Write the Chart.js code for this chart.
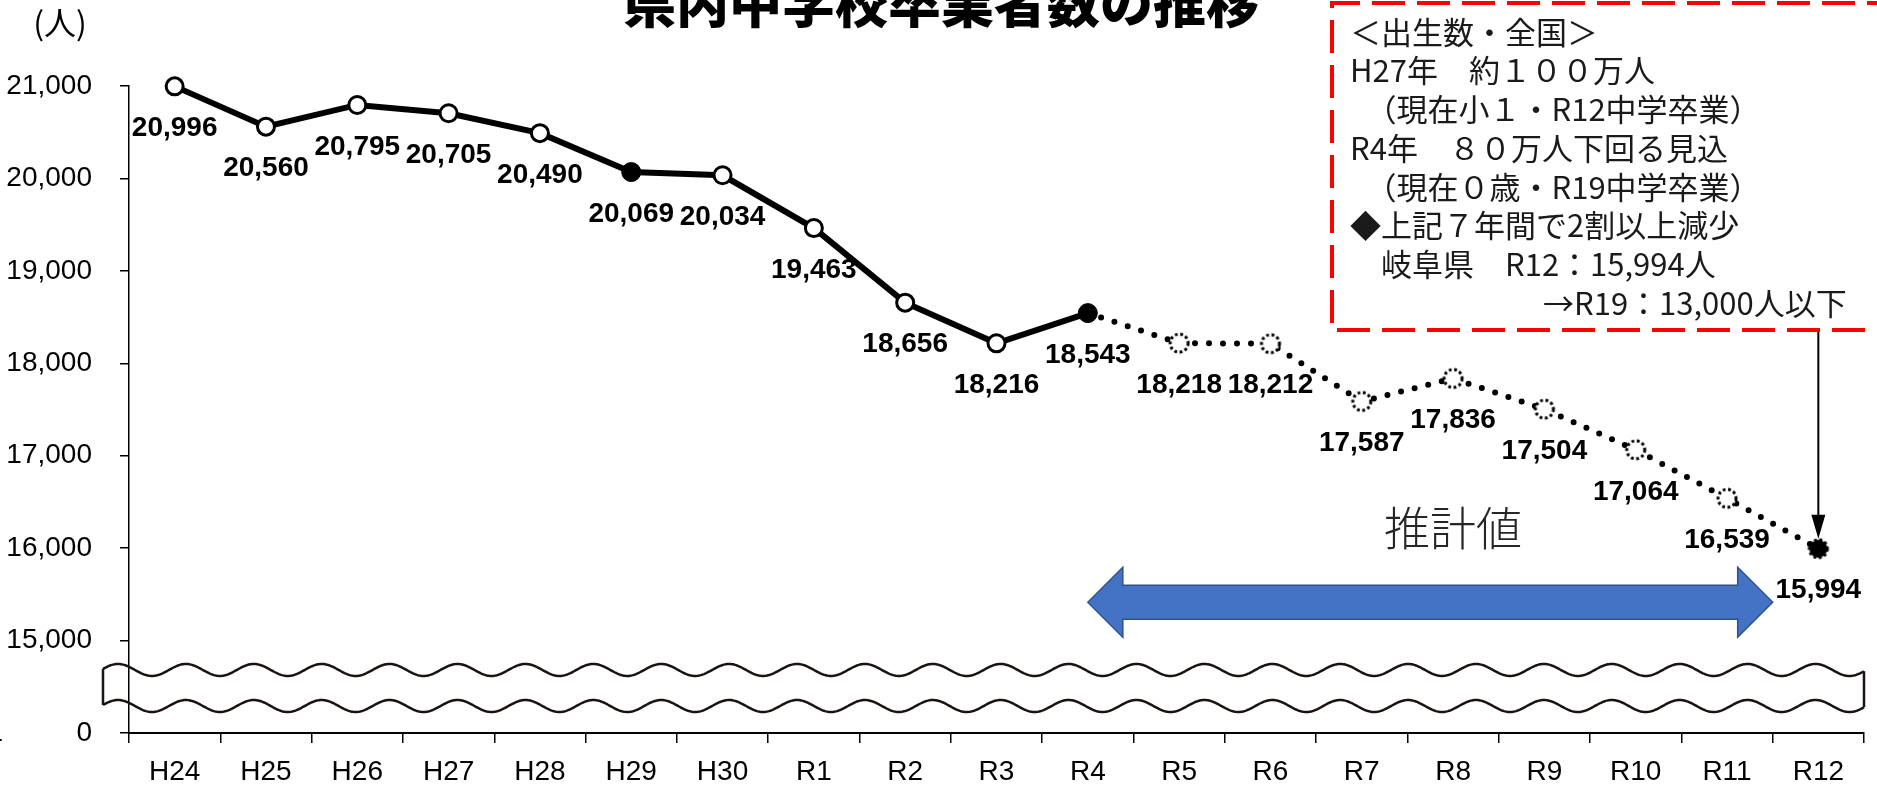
<!DOCTYPE html>
<html>
<head>
<meta charset="utf-8">
<script src="https://cdn.jsdelivr.net/npm/chart.js@4.4.0/dist/chart.umd.min.js"></script>
<style>
html,body{margin:0;padding:0;background:#fff;overflow:hidden;}
#wrap{position:relative;width:1877px;height:788px;}
</style>
</head>
<body>
<div id="wrap"><canvas id="c" width="1877" height="788"></canvas></div>
<script>
// ---- data ----
const categories = ['H24','H25','H26','H27','H28','H29','H30','R1','R2','R3','R4','R5','R6','R7','R8','R9','R10','R11','R12'];
const graduates = [20996,20560,20795,20705,20490,20069,20034,19463,18656,18216,18543,18218,18212,17587,17836,17504,17064,16539,15994];
const markerKinds = ['open','open','open','open','open','filled','open','open','open','open','filled',
                     'estimate','estimate','estimate','estimate','estimate','estimate','estimate','estimateFilled'];
const lastActualIndex = 10;
const yTickValues = [14000,15000,16000,17000,18000,19000,20000,21000];
const yTickLabels = ['0','15,000','16,000','17,000','18,000','19,000','20,000','21,000'];
const chartTitle = '県内中学校卒業者数の推移';
const unitLabel = '(人)';
const estimateLabel = '推計値';
const noteLines = [
  '＜出生数・全国＞',
  'H27年　約１００万人',
  '　（現在小１・R12中学卒業）',
  'R4年　８０万人下回る見込',
  '　（現在０歳・R19中学卒業）',
  '◆上記７年間で2割以上減少',
  '　岐阜県　R12：15,994人',
  '→R19：13,000人以下'
];

const LATIN = '"Liberation Sans", Arial, sans-serif';
const JP = '"Noto Sans CJK JP", "Noto Sans", sans-serif';

function makeMarker(fill) {
  const c = document.createElement('canvas');
  c.width = 28; c.height = 28;
  const g = c.getContext('2d');
  g.beginPath();
  g.arc(14, 14, 9, 0, Math.PI * 2);
  g.fillStyle = fill;
  g.fill();
  g.setLineDash([2.8, 2.6]);
  g.lineWidth = 3;
  g.strokeStyle = '#000';
  g.stroke();
  return c;
}
const estimateMarker = makeMarker('#fff');
const estimateFilledMarker = makeMarker('#000');

const pointStyles = markerKinds.map(k => k === 'estimate' ? estimateMarker : (k === 'estimateFilled' ? estimateFilledMarker : 'circle'));
const pointRadii = markerKinds.map(k => k === 'filled' ? 9.5 : (k === 'open' ? 8.5 : 10));
const pointFills = markerKinds.map(k => k === 'open' ? '#fff' : '#000');
const pointBorderWidths = markerKinds.map(k => k === 'filled' ? 1 : 3);

const decor = {
  id: 'decor',
  afterDraw(chart) {
    const ctx = chart.ctx;
    const xs = chart.scales.x, ys = chart.scales.y;
    ctx.save();

    // title
    ctx.fillStyle = '#000';
    ctx.font = '900 53px ' + JP;
    ctx.textAlign = 'center';
    ctx.textBaseline = 'alphabetic';
    ctx.fillText(chartTitle, 941, 23);

    // unit label
    ctx.font = '32px ' + JP;
    ctx.textBaseline = 'middle';
    ctx.fillText(unitLabel, 60, 23);

    // clipped leftover glyph next to "0"
    ctx.font = '28px ' + LATIN;
    ctx.textAlign = 'right';
    ctx.fillText('1', 3, ys.getPixelForValue(14000));

    // wavy axis break
    const yUp = ys.getPixelForValue(14682);
    const yLo = ys.getPixelForValue(14292);
    const xStart = 103, xEnd = 1864, amp = 6, lam = 67.9, x0 = 118;
    ctx.strokeStyle = '#1a1311';
    ctx.lineWidth = 2.5;
    [yUp, yLo].forEach(yc => {
      ctx.beginPath();
      for (let x = xStart; x <= xEnd; x += 1) {
        const y = yc - amp * Math.cos(2 * Math.PI * (x - x0) / lam);
        if (x === xStart) ctx.moveTo(x, y); else ctx.lineTo(x, y);
      }
      ctx.stroke();
    });
    const wy = (yc, x) => yc - amp * Math.cos(2 * Math.PI * (x - x0) / lam);
    ctx.beginPath();
    ctx.moveTo(xStart, wy(yUp, xStart)); ctx.lineTo(xStart, wy(yLo, xStart));
    ctx.moveTo(xEnd, wy(yUp, xEnd)); ctx.lineTo(xEnd, wy(yLo, xEnd));
    ctx.stroke();

    // blue double arrow (estimate span)
    const ax1 = xs.getPixelForValue(lastActualIndex);
    const ax2 = (xs.getPixelForValue(17) + xs.getPixelForValue(18)) / 2;
    const ayc = ys.getPixelForValue(15415);
    const hl = 35, hh = 35, sh = 17;
    ctx.beginPath();
    ctx.moveTo(ax1, ayc);
    ctx.lineTo(ax1 + hl, ayc - hh);
    ctx.lineTo(ax1 + hl, ayc - sh);
    ctx.lineTo(ax2 - hl, ayc - sh);
    ctx.lineTo(ax2 - hl, ayc - hh);
    ctx.lineTo(ax2, ayc);
    ctx.lineTo(ax2 - hl, ayc + hh);
    ctx.lineTo(ax2 - hl, ayc + sh);
    ctx.lineTo(ax1 + hl, ayc + sh);
    ctx.lineTo(ax1 + hl, ayc + hh);
    ctx.closePath();
    ctx.fillStyle = '#4472C4';
    ctx.fill();
    ctx.strokeStyle = '#2F528F';
    ctx.lineWidth = 1.5;
    ctx.stroke();

    // 推計値
    ctx.fillStyle = '#262626';
    ctx.font = '300 46px ' + JP;
    ctx.textAlign = 'center';
    ctx.textBaseline = 'middle';
    ctx.fillText(estimateLabel, xs.getPixelForValue(14), 528);

    // note box
    const bx = 1332, by = 3, bb = 330, br = 1900;
    ctx.fillStyle = '#fff';
    ctx.fillRect(bx, by, br - bx, bb - by);
    ctx.strokeStyle = '#FF0000';
    ctx.lineWidth = 4;
    ctx.setLineDash([33, 12]);
    ctx.beginPath();
    ctx.moveTo(br, by); ctx.lineTo(bx, by); ctx.lineTo(bx, bb); ctx.lineTo(br, bb);
    ctx.stroke();
    ctx.setLineDash([]);

    ctx.fillStyle = '#1a1a1a';
    ctx.font = '31px ' + JP;
    ctx.textAlign = 'left';
    ctx.textBaseline = 'middle';
    noteLines.forEach((t, i) => {
      const x = i === noteLines.length - 1 ? 1543 : 1350;
      ctx.fillText(t, x, 32 + 38.7 * i);
    });

    // arrow from box to R12
    const rx = xs.getPixelForValue(18);
    const ry = ys.getPixelForValue(graduates[18]);
    const tipY = ry - 10;
    ctx.strokeStyle = '#000';
    ctx.lineWidth = 2;
    ctx.beginPath();
    ctx.moveTo(rx, bb + 2);
    ctx.lineTo(rx, tipY - 20);
    ctx.stroke();
    ctx.fillStyle = '#000';
    ctx.beginPath();
    ctx.moveTo(rx, tipY);
    ctx.lineTo(rx - 7, tipY - 24);
    ctx.lineTo(rx + 7, tipY - 24);
    ctx.closePath();
    ctx.fill();

    // data labels
    const meta = chart.getDatasetMeta(0);
    ctx.fillStyle = '#000';
    ctx.font = 'bold 28px ' + LATIN;
    ctx.textAlign = 'center';
    ctx.textBaseline = 'middle';
    meta.data.forEach((pt, i) => {
      ctx.fillText(graduates[i].toLocaleString('en-US'), pt.x, pt.y + 42);
    });

    ctx.restore();
  }
};

new Chart(document.getElementById('c'), {
  type: 'line',
  data: {
    labels: categories,
    datasets: [{
      data: graduates,
      borderColor: '#000',
      borderWidth: 6,
      tension: 0,
      clip: false,
      segment: {
        borderDash: c => c.p0DataIndex >= lastActualIndex ? [0, 14] : undefined,
        borderCapStyle: c => c.p0DataIndex >= lastActualIndex ? 'round' : 'butt'
      },
      pointStyle: pointStyles,
      pointRadius: pointRadii,
      pointBackgroundColor: pointFills,
      pointBorderColor: '#000',
      pointBorderWidth: pointBorderWidths
    }]
  },
  options: {
    responsive: false,
    animation: false,
    devicePixelRatio: 1,
    layout: { padding: { top: 86, right: 0, left: 0, bottom: 0 } },
    plugins: { legend: { display: false }, tooltip: { enabled: false }, title: { display: false } },
    scales: {
      x: {
        offset: true,
        grid: { offset: true, drawOnChartArea: false, drawTicks: true, tickLength: 10, color: '#000', lineWidth: 1.5 },
        border: { color: '#000', width: 2 },
        ticks: { font: { family: LATIN, size: 28 }, color: '#000', padding: 12, maxRotation: 0, autoSkip: false },
        afterFit(s) { s.height = 55; }
      },
      y: {
        min: 14000, max: 21000,
        afterBuildTicks(s) { s.ticks = yTickValues.map(v => ({ value: v })); },
        ticks: {
          font: { family: LATIN, size: 28 }, color: '#000', padding: 28,
          callback: (v) => yTickLabels[yTickValues.indexOf(v)]
        },
        grid: { drawOnChartArea: false, drawTicks: true, tickLength: 9, color: '#000', lineWidth: 1.5 },
        border: { color: '#000', width: 1.5 },
        afterFit(s) { s.width = 129; }
      }
    }
  },
  plugins: [decor]
});
</script>
</body>
</html>
